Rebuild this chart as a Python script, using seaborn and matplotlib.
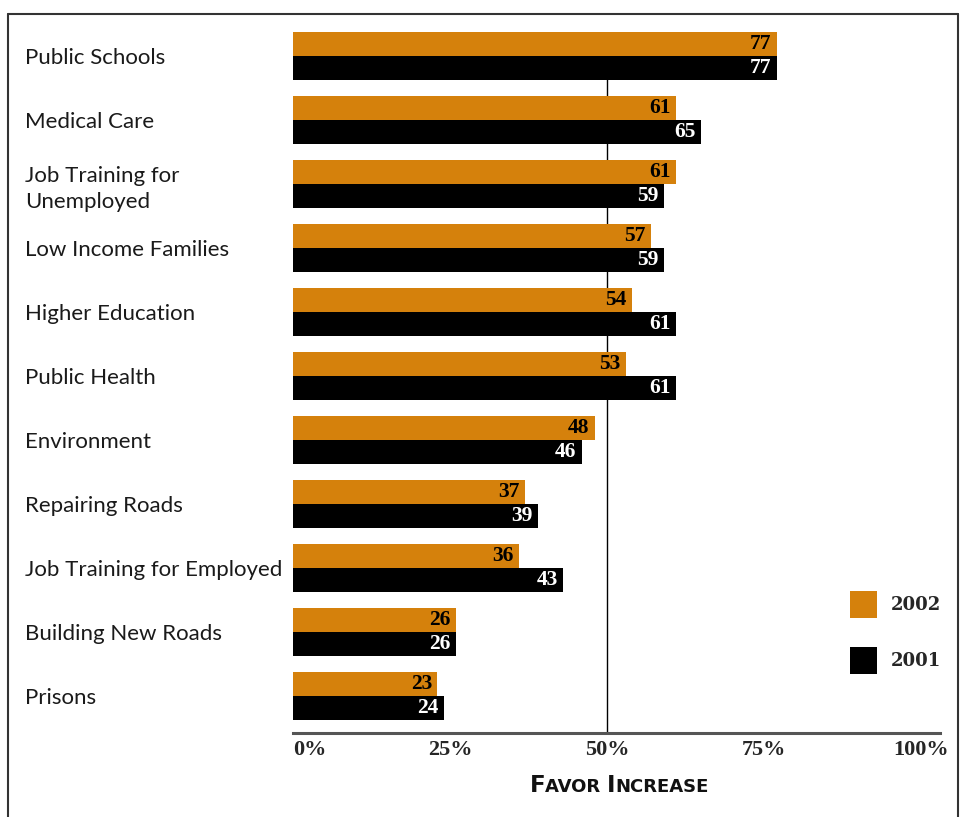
import pandas as pd
import matplotlib.pyplot as plt
import seaborn as sns
from matplotlib.lines import Line2D
from matplotlib.patches import Patch
from matplotlib.offsetbox import TextArea, HPacker, AnchoredOffsetbox

# Chart data
categories = ['Public Schools', 'Medical Care', 'Job Training for\nUnemployed',
              'Low Income Families', 'Higher Education', 'Public Health',
              'Environment', 'Repairing Roads', 'Job Training for Employed',
              'Building New Roads', 'Prisons']
favor_2002 = [77, 61, 61, 57, 54, 53, 48, 37, 36, 26, 23]
favor_2001 = [77, 65, 59, 59, 61, 61, 46, 39, 43, 26, 24]
years = ['2002', '2001']
tick_values = [0, 25, 50, 75, 100]
tick_labels = ['0%', '25%', '50%', '75%', '100%']

orange = '#D5810C'
palette = {'2002': orange, '2001': 'black'}

# long format for seaborn
df = pd.DataFrame({
    'Category': categories * 2,
    'Year': ['2002'] * len(categories) + ['2001'] * len(categories),
    'Value': favor_2002 + favor_2001,
})

sns.set_style('white')

fig = plt.figure(figsize=(9.67, 8.17), dpi=100)
ax = fig.add_axes([293 / 967, 1 - 733 / 817, (940 - 293) / 967, (733 - 14) / 817])

sns.barplot(data=df, y='Category', x='Value', hue='Year', hue_order=years,
            palette=palette, orient='h', width=0.75, saturation=1,
            edgecolor='none', legend=False, ax=ax, zorder=2)

ax.set_xlim(0, 103)
ax.set_ylim(10.58, -0.66)

# value labels inside the bar ends
label_font = dict(family='Liberation Serif', weight='bold', size=15.5)
for cont, color in zip(ax.containers, ['black', 'white']):
    texts = ax.bar_label(cont, padding=-4, color=color, **label_font)
    for t in texts:
        t.set_ha('right')
        t.set_va('center')

# 50% reference line
ax.vlines(50, -0.375, 10.58, color='black', linewidth=1, zorder=0)

# spines
for side in ['top', 'right', 'left']:
    ax.spines[side].set_visible(False)
ax.spines['bottom'].set_color('#555555')
ax.spines['bottom'].set_linewidth(2.2)

# category labels on the far left
ax.set_yticks(range(len(categories)))
ax.set_yticklabels(categories, family='Lato', size=16, ha='left', color='#1a1a1a',
                   linespacing=1.35)
ax.tick_params(axis='y', length=0, pad=268 / 1.389)
ax.set_ylabel('')

ax.set_xticks(tick_values)
ax.set_xticklabels(tick_labels, family='Liberation Serif', weight='bold', size=16)
ax.tick_params(axis='x', length=0, pad=5)
xt = ax.get_xticklabels()
xt[0].set_ha('left')
ax.set_xlabel('')

# small-caps style axis title
cap = dict(family='DejaVu Sans', weight='bold', color='#111111')
parts = [TextArea('F', textprops=dict(size=16.5, **cap)),
         TextArea('AVOR ', textprops=dict(size=13, **cap)),
         TextArea('I', textprops=dict(size=16.5, **cap)),
         TextArea('NCREASE', textprops=dict(size=13, **cap))]
title_box = HPacker(children=parts, align='baseline', pad=0, sep=0)
fig.add_artist(AnchoredOffsetbox(loc='center', child=title_box, frameon=False,
                                 bbox_to_anchor=(619 / 967, 1 - 785 / 817),
                                 bbox_transform=fig.transFigure, pad=0, borderpad=0))

# legend
handles = [Patch(facecolor=palette[y], edgecolor='none') for y in years]
ax.legend(handles, years, loc='center left', bbox_to_anchor=(0.836, 0.14),
          frameon=False, handlelength=1.5, handleheight=1.9, labelspacing=1.6,
          handletextpad=0.75,
          prop=dict(family='DejaVu Serif', weight='bold', size=13))

# outer frame
frame = dict(color='#333333', linewidth=1.5, transform=fig.transFigure)
fig.add_artist(Line2D([8 / 967, 8 / 967], [0, 1 - 14 / 817], **frame))
fig.add_artist(Line2D([958 / 967, 958 / 967], [0, 1 - 14 / 817], **frame))
fig.add_artist(Line2D([8 / 967, 958 / 967], [1 - 14 / 817, 1 - 14 / 817], **frame))

fig.savefig('out.png', dpi=100)
